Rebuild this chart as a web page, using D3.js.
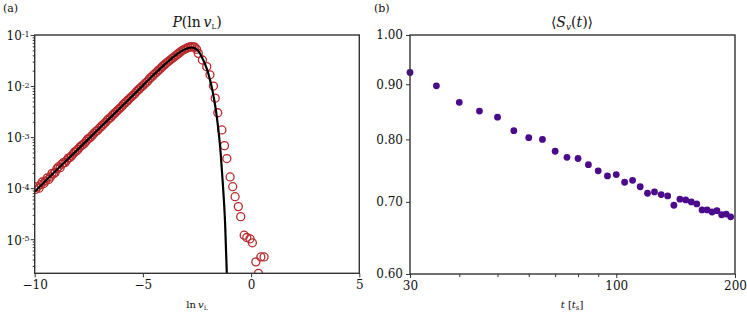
<!DOCTYPE html>
<html>
<head>
<meta charset="utf-8">
<script src="https://cdn.jsdelivr.net/npm/d3@7"></script>
<style>
body { margin: 0; background: #fff; }
text { font-family: "DejaVu Serif", serif; fill: #111; }
</style>
</head>
<body>
<div class="canvas"></div>
<script>
// panel (a): fitted curve
const lnvCurve = [-10, -9, -8, -7, -6, -5, -4.5, -4, -3.7, -3.4, -3.1, -2.9, -2.75, -2.6, -2.45, -2.3, -2.15, -2, -1.9, -1.8, -1.7, -1.6, -1.5, -1.4, -1.3, -1.2, -1.12];
const pCurve = [8.5e-5, 2.24e-4, 5.75e-4, 1.51e-3, 3.89e-3, 1.02e-2, 1.66e-2, 2.63e-2, 3.39e-2, 4.27e-2, 5.13e-2, 5.56e-2, 5.69e-2, 5.5e-2, 4.9e-2, 3.89e-2, 2.82e-2, 1.91e-2, 1.32e-2, 8.7e-3, 5.2e-3, 2.8e-3, 1.26e-3, 4.5e-4, 1.12e-4, 2.0e-5, 2.0e-6];

// panel (a): histogram points
const lnvHist = [-9.95, -9.8, -9.65, -9.5, -9.35, -9.2, -9.05, -8.9, -8.75, -8.6, -8.45, -8.3, -8.15, -8, -7.85, -7.7, -7.55, -7.4, -7.25, -7.1, -6.95, -6.8, -6.65, -6.5, -6.35, -6.2, -6.05, -5.9, -5.75, -5.6, -5.45, -5.3, -5.15, -5, -4.85, -4.7, -4.55, -4.4, -4.25, -4.1, -3.95, -3.8, -3.65, -3.5, -3.35, -3.2, -3.05, -2.9, -2.75, -2.6,
  -9.875, -9.725, -9.575, -9.425, -9.275, -9.125, -8.975, -8.825, -8.675, -8.525, -8.375, -8.225, -8.075, -7.925, -7.775, -7.625, -7.475, -7.325, -7.175, -7.025, -6.875, -6.725, -6.575, -6.425, -6.275, -6.125, -5.975, -5.825, -5.675, -5.525, -5.375, -5.225, -5.075, -4.925, -4.775, -4.625, -4.475, -4.325, -4.175, -4.025, -3.875, -3.725, -3.575, -3.425, -3.275, -3.125, -2.975, -2.825, -2.675, -2.52,
  -2.44, -2.25, -2.05, -1.9, -1.74, -1.66, -1.54, -1.35, -1.23, -1.12, -0.97, -0.85, -0.74, -0.59, -0.48, -0.32, -0.2, -0.05, 0.06, 0.22, 0.34, 0.45, 0.6];
const pHist = [9.5e-5, 1.0e-4, 1.32e-4, 1.38e-4, 1.48e-4, 1.95e-4, 2.04e-4, 2.63e-4, 2.95e-4, 3.16e-4, 3.89e-4, 4.27e-4, 5.13e-4, 5.75e-4, 6.76e-4, 7.59e-4, 9.12e-4, 1.02e-3, 1.2e-3, 1.35e-3, 1.58e-3, 1.82e-3, 2.14e-3, 2.4e-3, 2.82e-3, 3.24e-3, 3.72e-3, 4.37e-3, 5.01e-3, 5.75e-3, 6.61e-3, 7.76e-3, 8.91e-3, 1.02e-2, 1.17e-2, 1.38e-2, 1.58e-2, 1.82e-2, 2.09e-2, 2.4e-2, 2.75e-2, 3.09e-2, 3.47e-2, 3.89e-2, 4.37e-2, 4.9e-2, 5.31e-2, 5.69e-2, 5.89e-2, 5.75e-2,
  1.07e-4, 1.17e-4, 1.23e-4, 1.58e-4, 1.66e-4, 1.91e-4, 2.4e-4, 2.51e-4, 3.16e-4, 3.47e-4, 3.98e-4, 4.68e-4, 5.37e-4, 6.31e-4, 7.08e-4, 8.32e-4, 9.55e-4, 1.1e-3, 1.29e-3, 1.48e-3, 1.7e-3, 1.95e-3, 2.29e-3, 2.63e-3, 3.02e-3, 3.47e-3, 3.98e-3, 4.68e-3, 5.37e-3, 6.17e-3, 7.08e-3, 8.32e-3, 9.55e-3, 1.1e-2, 1.26e-2, 1.48e-2, 1.7e-2, 1.95e-2, 2.24e-2, 2.57e-2, 2.92e-2, 3.27e-2, 3.67e-2, 4.12e-2, 4.62e-2, 5.13e-2, 5.5e-2, 5.82e-2, 5.86e-2, 5.25e-2,
  4.37e-2, 3.24e-2, 2.4e-2, 1.66e-2, 1.0e-2, 5.8e-3, 3.0e-3, 1.38e-3, 6.8e-4, 3.8e-4, 1.66e-4, 1.07e-4, 6.8e-5, 4.35e-5, 2.77e-5, 1.2e-5, 1.08e-5, 1.02e-5, 8.5e-6, 3.6e-6, 2.15e-6, 4.5e-6, 4.5e-6];

// panel (b): survival
const tTimes = [30, 35, 40, 45, 50, 55, 60, 65, 70, 75, 80, 85, 90, 95, 100, 105, 110, 115, 120, 125, 130, 135, 140, 145, 150, 155, 160, 165, 170, 175, 180, 185, 190, 195];
const sMean = [0.923, 0.897, 0.866, 0.85, 0.839, 0.815, 0.803, 0.8, 0.78, 0.77, 0.768, 0.758, 0.748, 0.74, 0.742, 0.73, 0.733, 0.723, 0.713, 0.715, 0.711, 0.709, 0.695, 0.704, 0.703, 0.7, 0.697, 0.688, 0.688, 0.685, 0.687, 0.681, 0.682, 0.678];
const sErr = [0.004, 0.004, 0.004, 0.004, 0.004, 0.004, 0.003, 0.004, 0.003, 0.003, 0.003, 0.003, 0.003, 0.003, 0.003, 0.003, 0.003, 0.003, 0.003, 0.003, 0.003, 0.003, 0.003, 0.003, 0.003, 0.003, 0.003, 0.003, 0.003, 0.003, 0.003, 0.003, 0.003, 0.003];

// ticks
const aXTicks = [-10, -5, 0, 5];
const aYTicks = [1e-5, 1e-4, 1e-3, 1e-2, 1e-1];
const bXTicks = [30, 100, 200];
const bXMinor = [40, 50, 60, 70, 80, 90];
const bYTicks = [0.6, 0.7, 0.8, 0.9, 1.0];

const svg = d3.select('.canvas')
    .append('svg')
    .attr('width', 747)
    .attr('height', 316);

const spine = '#333';
const red = '#b8292b';
const purple = '#4b0a8c';

// ---------- panel (a) ----------
const xA = d3.scaleLinear().domain([-10, 5]).range([34.7, 359.3]);
const yA = d3.scaleLog().domain([2.15e-6, 0.1]).range([273.3, 35]);

svg.append('clipPath').attr('id', 'clipA')
    .append('rect')
    .attr('x', 34.7).attr('y', 35)
    .attr('width', 324.6).attr('height', 238.3);

const gA = svg.append('g').attr('clip-path', 'url(#clipA)');

gA.selectAll('circle')
    .data(lnvHist)
    .enter()
    .append('circle')
        .attr('cx', d => xA(d))
        .attr('cy', (d, i) => yA(pHist[i]))
        .attr('r', 4)
        .attr('fill', 'none')
        .attr('stroke', red)
        .attr('stroke-width', 1.3);

const curveLine = d3.line()
    .x((d, i) => xA(d))
    .y((d, i) => yA(pCurve[i]))
    .curve(d3.curveMonotoneX);

gA.append('path')
    .attr('d', curveLine(lnvCurve))
    .attr('fill', 'none')
    .attr('stroke', '#000')
    .attr('stroke-width', 2.2);

// axes a
svg.append('g')
    .attr('transform', 'translate(0, 273.3)')
    .call(d3.axisBottom(xA).tickValues(aXTicks).tickSize(4).tickPadding(3)
        .tickFormat(d => d < 0 ? '\u2212' + Math.abs(d) : d));

const aMinor = [];
[-6, -5, -4, -3, -2].forEach(e => {
    for (let k = 2; k <= 9; k++) {
        const v = k * Math.pow(10, e);
        if (v >= 2.15e-6 && v < 0.1) aMinor.push(v);
    }
});

svg.append('g')
    .attr('transform', 'translate(34.7, 0)')
    .call(d3.axisLeft(yA).tickValues(aMinor).tickSize(2).tickFormat(''));

const yAxisA = svg.append('g')
    .attr('transform', 'translate(34.7, 0)')
    .call(d3.axisLeft(yA).tickValues(aYTicks).tickSize(4).tickPadding(3).tickFormat(''));

yAxisA.selectAll('.tick text')
    .attr('x', -5)
    .attr('dy', '0.4em')
    .each(function (d) {
        const t = d3.select(this);
        t.append('tspan').text('10');
        t.append('tspan')
            .attr('dy', '-0.45em')
            .attr('font-size', 8)
            .text(Math.round(Math.log10(d)));
    });

svg.append('rect')
    .attr('x', 34.7).attr('y', 35)
    .attr('width', 324.6).attr('height', 238.3)
    .attr('fill', 'none')
    .attr('stroke', spine)
    .attr('stroke-width', 1.4);

// ---------- panel (b) ----------
const xB = d3.scaleLog().domain([30, 200]).range([410, 735]);
const yB = d3.scaleLog().domain([0.6, 1.0]).range([274, 35]);

const gB = svg.append('g');

gB.selectAll('line')
    .data(tTimes)
    .enter()
    .append('line')
        .attr('x1', d => xB(d))
        .attr('x2', d => xB(d))
        .attr('y1', (d, i) => yB(sMean[i] - sErr[i]))
        .attr('y2', (d, i) => yB(sMean[i] + sErr[i]))
        .attr('stroke', purple)
        .attr('stroke-width', 3.6);

gB.selectAll('circle')
    .data(tTimes)
    .enter()
    .append('circle')
        .attr('cx', d => xB(d))
        .attr('cy', (d, i) => yB(sMean[i]))
        .attr('r', 3.4)
        .attr('fill', purple);

svg.append('g')
    .attr('transform', 'translate(0, 274)')
    .call(d3.axisBottom(xB).tickValues(bXMinor).tickSize(3).tickFormat(''));

svg.append('g')
    .attr('transform', 'translate(0, 274)')
    .call(d3.axisBottom(xB).tickValues(bXTicks).tickSize(4).tickPadding(3).tickFormat(d3.format('d')));

svg.append('g')
    .attr('transform', 'translate(410, 0)')
    .call(d3.axisLeft(yB).tickValues(bYTicks).tickSize(4).tickPadding(3).tickFormat(d3.format('.2f')));

svg.append('rect')
    .attr('x', 410).attr('y', 35)
    .attr('width', 325).attr('height', 239)
    .attr('fill', 'none')
    .attr('stroke', spine)
    .attr('stroke-width', 1.4);

// shared axis styling
svg.selectAll('.domain').remove();
svg.selectAll('.tick line').attr('stroke', spine).attr('stroke-width', 1);
svg.selectAll('.tick text')
    .attr('font-family', '"DejaVu Serif", serif')
    .attr('font-size', 12)
    .attr('fill', '#111');

// titles and labels
svg.append('text').attr('x', 3).attr('y', 12).attr('font-size', 11).text('(a)');
svg.append('text').attr('x', 374).attr('y', 12).attr('font-size', 11).text('(b)');

const titleA = svg.append('text')
    .attr('x', 197).attr('y', 27)
    .attr('text-anchor', 'middle')
    .attr('font-size', 14);
titleA.append('tspan').attr('font-style', 'italic').text('P');
titleA.append('tspan').text('(ln\u2009');
titleA.append('tspan').attr('font-style', 'italic').text('v');
titleA.append('tspan').attr('font-size', 7).attr('dy', 2).text('L');
titleA.append('tspan').attr('dy', -2).text(')');

const titleB = svg.append('text')
    .attr('x', 572).attr('y', 27)
    .attr('text-anchor', 'middle')
    .attr('font-size', 14);
titleB.append('tspan').text('\u27E8');
titleB.append('tspan').attr('font-style', 'italic').text('S');
titleB.append('tspan').attr('font-style', 'italic').attr('font-size', 9).attr('dy', 3).text('v');
titleB.append('tspan').attr('dy', -3).text('(');
titleB.append('tspan').attr('font-style', 'italic').text('t');
titleB.append('tspan').text(')\u27E9');

const labelA = svg.append('text')
    .attr('x', 197).attr('y', 308)
    .attr('text-anchor', 'middle')
    .attr('font-size', 10);
labelA.append('tspan').text('ln\u2009');
labelA.append('tspan').attr('font-style', 'italic').text('v');
labelA.append('tspan').attr('font-size', 6).attr('dy', 2).text('L');

const labelB = svg.append('text')
    .attr('x', 572).attr('y', 308)
    .attr('text-anchor', 'middle')
    .attr('font-size', 10);
labelB.append('tspan').attr('font-style', 'italic').text('t');
labelB.append('tspan').text(' [');
labelB.append('tspan').attr('font-style', 'italic').text('t');
labelB.append('tspan').attr('font-size', 7).attr('dy', 2).text('s');
labelB.append('tspan').attr('dy', -2).text(']');
</script>
</body>
</html>
